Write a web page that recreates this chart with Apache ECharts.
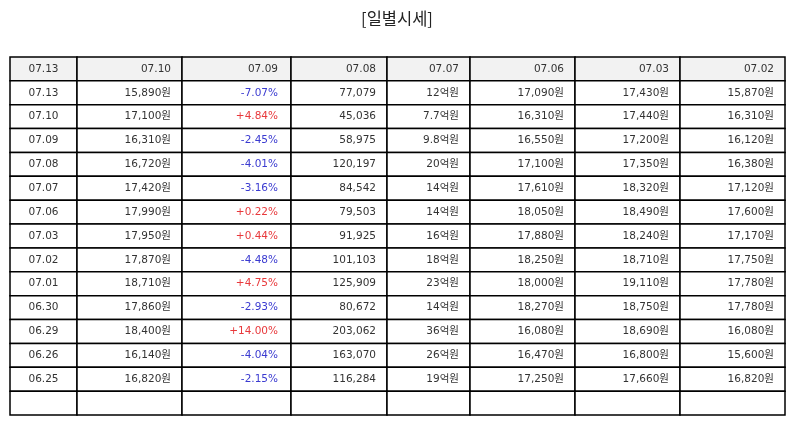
<!DOCTYPE html>
<html>
<head>
<meta charset="utf-8">
<script src="https://cdn.jsdelivr.net/npm/echarts@6/dist/echarts.min.js"></script>
<style>
  html, body { margin: 0; padding: 0; background: #fff; }
  #chart { width: 794px; height: 425px; }
</style>
</head>
<body>
<div id="chart"></div>
<script>
// header row (top line of the table)
const headers = ["07.13", "07.10", "07.09", "07.08", "07.07", "07.06", "07.03", "07.02"];

// daily rows
const dates   = ["07.13", "07.10", "07.09", "07.08", "07.07", "07.06", "07.03", "07.02", "07.01", "06.30", "06.29", "06.26", "06.25"];
const closes  = [15890, 17100, 16310, 16720, 17420, 17990, 17950, 17870, 18710, 17860, 18400, 16140, 16820];
const changes = [-7.07, 4.84, -2.45, -4.01, -3.16, 0.22, 0.44, -4.48, 4.75, -2.93, 14.00, -4.04, -2.15];
const volumes = [77079, 45036, 58975, 120197, 84542, 79503, 91925, 101103, 125909, 80672, 203062, 163070, 116284];
const amounts = ["12억원", "7.7억원", "9.8억원", "20억원", "14억원", "14억원", "16억원", "18억원", "23억원", "14억원", "36억원", "26억원", "19억원"];
const opens   = [17090, 16310, 16550, 17100, 17610, 18050, 17880, 18250, 18000, 18270, 16080, 16470, 17250];
const highs   = [17430, 17440, 17200, 17350, 18320, 18490, 18240, 18710, 19110, 18750, 18690, 16800, 17660];
const lows    = [15870, 16310, 16120, 16380, 17120, 17600, 17170, 17750, 17780, 17780, 16080, 15600, 16820];

// layout: column edges along the x axis (table is 775 units wide)
const colEdges = [0, 67, 172, 281, 377, 460, 565, 670, 775];

(function(){
  const num = v => Number(v).toLocaleString("en-US");
  const won = v => num(v) + "원";
  const cellFont = "'DejaVu Sans', 'Noto Sans CJK KR', sans-serif";

  const rowCount = dates.length + 2; // header + rows + one empty line
  const rowNames = Array.from({length: rowCount}, (_, i) => String(i));

  const cells = [];
  headers.forEach((h, c) => cells.push({value: [c, 0], text: h, color: "#333"}));
  dates.forEach((d, i) => {
    const r = i + 1;
    const ch = changes[i];
    const chTxt = (ch > 0 ? "+" : "") + ch.toFixed(2) + "%";
    const row = [d, won(closes[i]), chTxt, num(volumes[i]), amounts[i], won(opens[i]), won(highs[i]), won(lows[i])];
    row.forEach((t, c) => {
      let color = "#333";
      if (c === 2) color = ch > 0 ? "#e8393c" : "#3a3ad0";
      cells.push({value: [c, r], text: t, color});
    });
  });
  headers.forEach((h, c) => cells.push({value: [c, rowCount - 1], text: "", color: "#333"}));

  const chart = echarts.init(document.getElementById("chart"));

  chart.setOption({
    animation: false,
    title: {
      text: "[일별시세]",
      left: "center",
      top: 5,
      textStyle: { fontSize: 16.5, fontWeight: "normal", color: "#222", fontFamily: "Noto Sans CJK KR" }
    },
    grid: { left: 10, right: 9, top: 57, bottom: 10 },
    xAxis: { type: "value", min: 0, max: colEdges[colEdges.length - 1], show: false },
    yAxis: { type: "category", data: rowNames, inverse: true, show: false },
    series: [{
      type: "custom",
      coordinateSystem: "cartesian2d",
      data: cells,
      renderItem: (params, api) => {
        const c = api.value(0);
        const r = api.value(1);
        const item = cells[params.dataIndex];
        const left = api.coord([colEdges[c], r]);
        const right = api.coord([colEdges[c + 1], r]);
        const h = api.size([0, 1])[1];
        const x0 = left[0], x1 = right[0], yc = left[1];
        const centered = c === 0;
        const pad = c === 2 ? 13 : 11;
        return {
          type: "group",
          children: [{
            type: "rect",
            shape: { x: x0, y: yc - h / 2, width: x1 - x0, height: h },
            style: { fill: r === 0 ? "#f2f2f2" : "#fff", stroke: "#000", lineWidth: 1.5 }
          }, {
            type: "text",
            x: centered ? (x0 + x1) / 2 : x1 - pad,
            y: yc,
            style: {
              text: item.text,
              fill: item.color,
              align: centered ? "center" : "right",
              verticalAlign: "middle",
              fontSize: 10.5,
              fontFamily: cellFont
            }
          }]
        };
      }
    }]
  });
})();
</script>
</body>
</html>
